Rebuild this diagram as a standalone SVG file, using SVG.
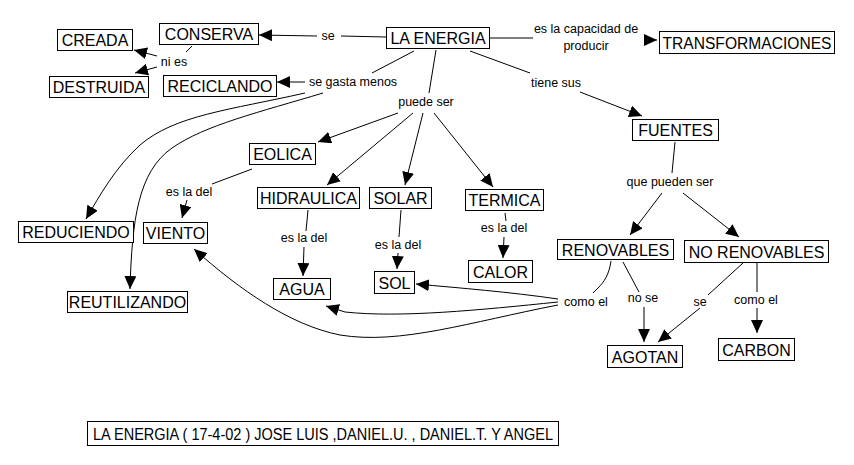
<svg xmlns="http://www.w3.org/2000/svg" width="854" height="465" viewBox="0 0 854 465">
<defs>
<marker id="ah" markerUnits="userSpaceOnUse" markerWidth="14" markerHeight="12" refX="13" refY="6" orient="auto">
<path d="M0,0 L13,6 L0,12 Z" fill="#000"/>
</marker>
<style>
.box{fill:#fff;stroke:#000;stroke-width:1}
.t{font-family:"Liberation Sans",Arial,sans-serif;font-size:16px;fill:#000;text-anchor:middle}
.l{font-family:"Liberation Sans",Arial,sans-serif;font-size:12.5px;fill:#000;text-anchor:middle}
.c{fill:none;stroke:#000;stroke-width:1}
.a{fill:none;stroke:#000;stroke-width:1;marker-end:url(#ah)}
</style>
</defs>
<rect width="854" height="465" fill="#fff"/>
<g id="connectors">
<line class="c" x1="386" y1="37" x2="341" y2="36"/>
<line class="a" x1="317" y1="36" x2="259" y2="35"/>
<line class="c" x1="192" y1="46" x2="186" y2="52"/>
<line class="a" x1="157" y1="56" x2="134" y2="50"/>
<line class="a" x1="157" y1="67" x2="135" y2="73"/>
<line class="c" x1="414" y1="51" x2="372" y2="73"/>
<line class="a" x1="305" y1="82" x2="277" y2="82"/>
<path class="a" d="M305,93 C230,110 175,115 140,145 C115,168 100,195 86,219"/>
<path class="a" d="M323,93 C260,112 205,125 172,148 C138,172 132,220 130,289"/>
<line class="c" x1="436" y1="50" x2="429" y2="93"/>
<line class="a" x1="398" y1="113" x2="318" y2="142"/>
<line class="a" x1="413" y1="113" x2="327" y2="185"/>
<line class="a" x1="423" y1="113" x2="405" y2="185"/>
<line class="a" x1="434" y1="113" x2="493" y2="187"/>
<line class="c" x1="489" y1="38" x2="533" y2="38"/>
<line class="a" x1="645" y1="40" x2="657" y2="40"/>
<line class="c" x1="470" y1="51" x2="530" y2="73"/>
<line class="a" x1="580" y1="92" x2="642" y2="116"/>
<line class="c" x1="675" y1="142" x2="672" y2="173"/>
<line class="a" x1="662" y1="193" x2="630" y2="235"/>
<line class="a" x1="683" y1="193" x2="739" y2="237"/>
<line class="c" x1="623" y1="262" x2="639" y2="292"/>
<line class="a" x1="644" y1="307" x2="644" y2="342"/>
<line class="c" x1="743" y1="263" x2="708" y2="295"/>
<line class="a" x1="700" y1="308" x2="658" y2="342"/>
<line class="c" x1="757" y1="263" x2="757" y2="292"/>
<line class="a" x1="757" y1="308" x2="757" y2="333"/>
<path class="c" d="M611,261 C609,275 604,282 598,288 L593,293"/>
<path class="a" d="M558,299 C510,292 460,288 416,284"/>
<path class="a" d="M558,302 C480,310 400,318 345,312 L326,306"/>
<path class="a" d="M558,305 C470,322 400,345 340,335 C290,325 240,290 194,249"/>
<line class="c" x1="252" y1="169" x2="212" y2="184"/>
<line class="a" x1="187" y1="200" x2="182" y2="218"/>
<line class="c" x1="308" y1="210" x2="306" y2="231"/>
<line class="a" x1="304" y1="247" x2="303" y2="276"/>
<line class="c" x1="401" y1="210" x2="399" y2="237"/>
<line class="a" x1="398" y1="253" x2="397" y2="269"/>
<line class="c" x1="505" y1="213" x2="506" y2="221"/>
<line class="a" x1="504" y1="237" x2="503" y2="258"/>
</g>
<g id="labels">
<text class="l" x="328" y="40">se</text>
<text class="l" x="586" y="33">es la capacidad de</text>
<text class="l" x="586" y="50">producir</text>
<text class="l" x="174" y="66">ni es</text>
<text class="l" x="353" y="86">se gasta menos</text>
<text class="l" x="426" y="106">puede ser</text>
<text class="l" x="556" y="87">tiene sus</text>
<text class="l" x="189" y="196">es la del</text>
<text class="l" x="304" y="242">es la del</text>
<text class="l" x="398" y="249">es la del</text>
<text class="l" x="504" y="232">es la del</text>
<text class="l" x="670" y="186">que pueden ser</text>
<text class="l" x="586" y="306">como el</text>
<text class="l" x="643" y="302">no se</text>
<text class="l" x="700" y="306">se</text>
<text class="l" x="756" y="304">como el</text>
</g>
<g id="n-creada"><rect class="box" x="57.5" y="29.5" width="75" height="21"/><text class="t" x="95" y="46">CREADA</text></g>
<g id="n-conserva"><rect class="box" x="159.5" y="23.5" width="99" height="21"/><text class="t" x="209" y="40">CONSERVA</text></g>
<g id="n-destruida"><rect class="box" x="49.5" y="76.5" width="99" height="21"/><text class="t" x="99" y="93">DESTRUIDA</text></g>
<g id="n-reciclando"><rect class="box" x="163.5" y="75.5" width="113" height="21"/><text class="t" x="220" y="92">RECICLANDO</text></g>
<g id="n-energia"><rect class="box" x="386.5" y="27.5" width="103" height="21"/><text class="t" x="438" y="44">LA ENERGIA</text></g>
<g id="n-transf"><rect class="box" x="659.5" y="31.5" width="175" height="22"/><text class="t" x="747" y="48.5" textLength="169" lengthAdjust="spacingAndGlyphs">TRANSFORMACIONES</text></g>
<g id="n-eolica"><rect class="box" x="249.5" y="143.5" width="66" height="21"/><text class="t" x="282.5" y="160">EOLICA</text></g>
<g id="n-hidraulica"><rect class="box" x="257.5" y="187.5" width="102" height="21"/><text class="t" x="308.5" y="204">HIDRAULICA</text></g>
<g id="n-solar"><rect class="box" x="369.5" y="187.5" width="62" height="21"/><text class="t" x="400.5" y="204">SOLAR</text></g>
<g id="n-termica"><rect class="box" x="465.5" y="189.5" width="78" height="21"/><text class="t" x="504.5" y="206">TERMICA</text></g>
<g id="n-agua"><rect class="box" x="273.5" y="278.5" width="57" height="21"/><text class="t" x="302" y="295">AGUA</text></g>
<g id="n-sol"><rect class="box" x="374.5" y="271.5" width="40" height="22"/><text class="t" x="394.5" y="288.5">SOL</text></g>
<g id="n-calor"><rect class="box" x="468.5" y="260.5" width="64" height="22"/><text class="t" x="500.5" y="277.5">CALOR</text></g>
<g id="n-reduciendo"><rect class="box" x="18.5" y="221.5" width="115" height="21"/><text class="t" x="76" y="238">REDUCIENDO</text></g>
<g id="n-viento"><rect class="box" x="143.5" y="222.5" width="64" height="21"/><text class="t" x="175.5" y="239">VIENTO</text></g>
<g id="n-reutilizando"><rect class="box" x="67.5" y="291.5" width="120" height="21"/><text class="t" x="127.5" y="308">REUTILIZANDO</text></g>
<g id="n-fuentes"><rect class="box" x="632.5" y="119.5" width="86" height="21"/><text class="t" x="675.5" y="136">FUENTES</text></g>
<g id="n-renovables"><rect class="box" x="557.5" y="239.5" width="116" height="20"/><text class="t" x="615.5" y="255.5">RENOVABLES</text></g>
<g id="n-norenovables"><rect class="box" x="684.5" y="240.5" width="144" height="22"/><text class="t" x="756.5" y="257.5">NO RENOVABLES</text></g>
<g id="n-agotan"><rect class="box" x="607.5" y="345.5" width="75" height="22"/><text class="t" x="645" y="362.5">AGOTAN</text></g>
<g id="n-carbon"><rect class="box" x="718.5" y="338.5" width="76" height="22"/><text class="t" x="756.5" y="355.5">CARBON</text></g>
<g id="n-title"><rect class="box" x="87.5" y="421.5" width="471" height="24"/><text class="t" x="323" y="439.5" textLength="460" lengthAdjust="spacingAndGlyphs">LA ENERGIA ( 17-4-02 ) JOSE LUIS ,DANIEL.U. , DANIEL.T. Y ANGEL</text></g>
</svg>
